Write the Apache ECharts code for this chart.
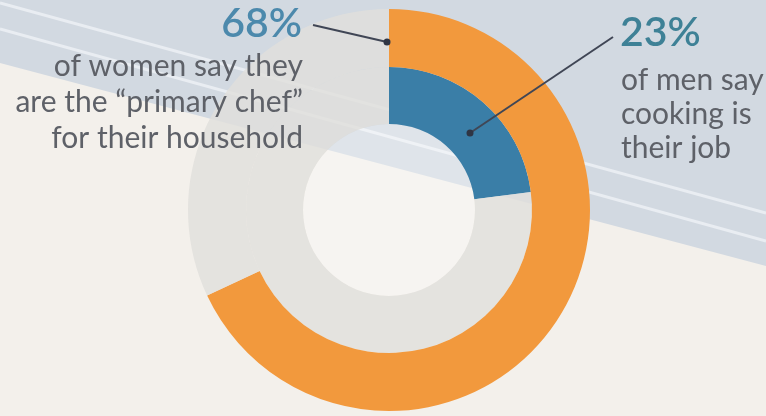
<!DOCTYPE html>
<html>
<head>
<meta charset="utf-8">
<script src="https://cdn.jsdelivr.net/npm/echarts@6/dist/echarts.min.js"></script>
<style>
  html, body { margin: 0; padding: 0; background: #f3f0eb; }
  #chart { width: 766px; height: 416px; }
</style>
</head>
<body>
<div id="chart"></div>
<script>
// ---- data ----
const categories = ['Women', 'Men'];
const womenSlices = ['Primary chef', 'Other'];
const womenValues = [68, 32];
const menSlices = ['Cooking is their job', 'Other'];
const menValues = [23, 77];
const headlineLabels = ['68%', '23%'];
const womenText = ['of women say they', 'are the \u201cprimary chef\u201d', 'for their household'];
const menText = ['of men say', 'cooking is', 'their job'];

// ---- styling ----
const ORANGE = '#f2993d';
const BLUE = '#3a7ea7';
const REST = 'rgba(225,223,220,0.82)';
const TEXT = '#5e6168';
const FONT = 'Lato, "Open Sans", sans-serif';
const CX = 389, CY = 210;

const chart = echarts.init(document.getElementById('chart'), null, { renderer: 'canvas' });

function textEls(lines, x, y0, step, align) {
  return lines.map((t, i) => ({
    type: 'text', z: 100, x: x, y: y0 + i * step,
    style: { text: t, fill: TEXT, font: '400 30px ' + FONT, align: align, verticalAlign: 'middle' }
  }));
}

const graphics = [
  // diagonal band in the background
  { type: 'polygon', z: -10, shape: { points: [[0, 0], [766, 0], [766, 266], [0, 63]] },
    style: { fill: '#d2d9e1' } },
  { type: 'line', z: -9, shape: { x1: 0, y1: 3, x2: 766, y2: 213 },
    style: { stroke: '#e9edf2', lineWidth: 3 } },
  { type: 'line', z: -9, shape: { x1: 0, y1: 29, x2: 766, y2: 241 },
    style: { stroke: '#e9edf2', lineWidth: 3 } },
  // pale hole of the donut
  { type: 'circle', z: -8, shape: { cx: CX, cy: CY, r: 86 },
    style: { fill: 'rgba(255,255,255,0.3)' } },
  // headlines
  { type: 'text', z: 100, x: 302, y: 24,
    style: { text: headlineLabels[0], fill: '#4c89ac', font: '600 41px ' + FONT, align: 'right', verticalAlign: 'middle' } },
  { type: 'text', z: 100, x: 620, y: 33,
    style: { text: headlineLabels[1], fill: '#3e8196', font: '600 41px ' + FONT, align: 'left', verticalAlign: 'middle' } },
  // leader lines
  { type: 'line', z: 100, shape: { x1: 313, y1: 25, x2: 387, y2: 42 },
    style: { stroke: '#404655', lineWidth: 2 } },
  { type: 'circle', z: 101, shape: { cx: 387, cy: 42, r: 3.5 }, style: { fill: '#2f3544' } },
  { type: 'line', z: 100, shape: { x1: 613, y1: 37, x2: 470, y2: 133 },
    style: { stroke: '#404655', lineWidth: 2 } },
  { type: 'circle', z: 101, shape: { cx: 470, cy: 133, r: 3.5 }, style: { fill: '#2f3544' } }
].concat(textEls(womenText, 303, 66, 36, 'right'))
 .concat(textEls(menText, 621, 80, 34, 'left'));

const option = {
  backgroundColor: '#f3f0eb',
  animation: false,
  graphic: { elements: graphics },
  series: [
    {
      name: categories[1], type: 'pie', silent: true,
      center: [CX, CY], radius: [86, 143], startAngle: 90, clockwise: true,
      label: { show: false }, labelLine: { show: false },
      data: menSlices.map((n, i) => ({ name: n, value: menValues[i],
        itemStyle: { color: i === 0 ? BLUE : REST } }))
    },
    {
      name: categories[0], type: 'pie', silent: true,
      center: [CX, CY], radius: [143, 201], startAngle: 90, clockwise: true,
      label: { show: false }, labelLine: { show: false },
      data: womenSlices.map((n, i) => ({ name: n, value: womenValues[i],
        itemStyle: { color: i === 0 ? ORANGE : REST } }))
    }
  ]
};
chart.setOption(option);
</script>
</body>
</html>
